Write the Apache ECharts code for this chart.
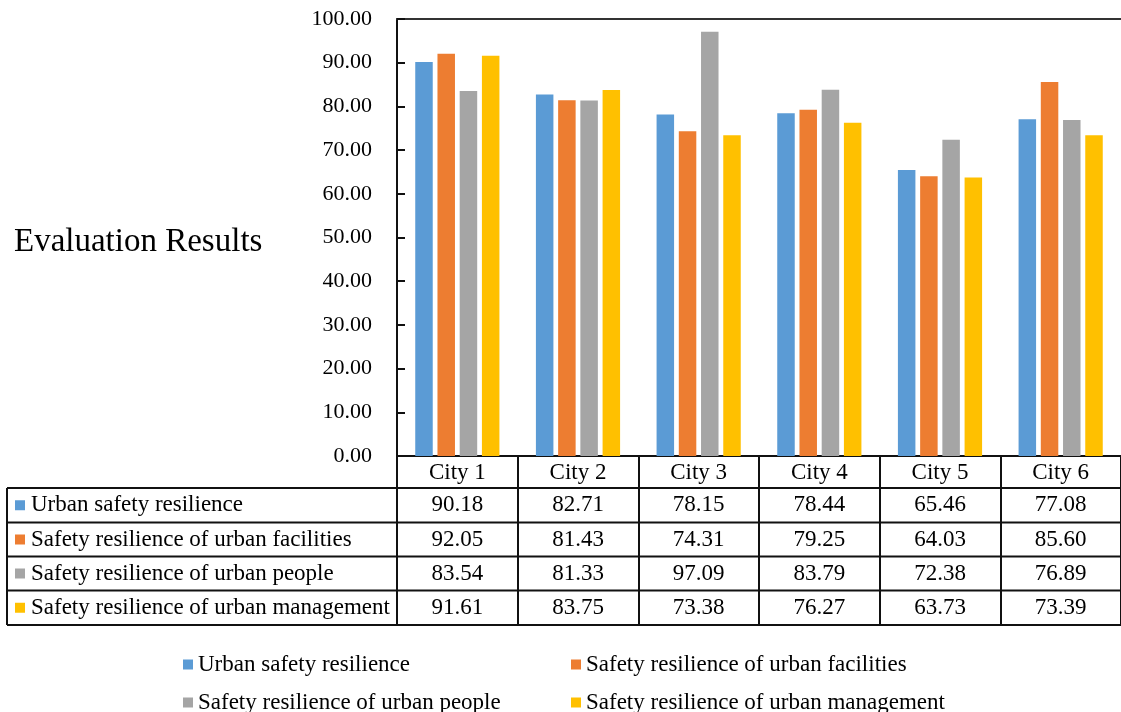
<!DOCTYPE html>
<html>
<head>
<meta charset="utf-8">
<script src="https://cdn.jsdelivr.net/npm/echarts@6/dist/echarts.min.js"></script>
<style>
    html, body {margin: 0; padding: 0; background: #fff;}
    #main {width: 1121px; height: 712px;}
</style>
</head>
<body>
<div id="main"></div>
<script>
const cities = ['City 1', 'City 2', 'City 3', 'City 4', 'City 5', 'City 6'];
const seriesNames = [
    'Urban safety resilience',
    'Safety resilience of urban facilities',
    'Safety resilience of urban people',
    'Safety resilience of urban management'
];
const urbanSafety = [90.18, 82.71, 78.15, 78.44, 65.46, 77.08];
const urbanFacilities = [92.05, 81.43, 74.31, 79.25, 64.03, 85.60];
const urbanPeople = [83.54, 81.33, 97.09, 83.79, 72.38, 76.89];
const urbanManagement = [91.61, 83.75, 73.38, 76.27, 63.73, 73.39];
const seriesValues = [urbanSafety, urbanFacilities, urbanPeople, urbanManagement];

const colorConfig = ['#5B9BD5', '#ED7D31', '#A5A5A5', '#FFC000'];
const serif = '"Liberation Serif", "Times New Roman", serif';
const lineColor = '#111';

//  数据表的行（上边线）
const rowLines = [488, 522.5, 556.5, 590.5, 625];

const chartOption = function () {
    return {
        animation: false,
        color: colorConfig,
        textStyle: {fontFamily: serif},
        title: {
            text: 'Evaluation Results',
            left: 9,
            top: 221,
            textStyle: {fontFamily: serif, fontSize: 33, fontWeight: 'normal', color: '#000'}
        },
        legend: seriesNames.map(function (name, i) {
            return {
                data: [name],
                left: i % 2 === 0 ? 178 : 566,
                top: i < 2 ? 648 : 686,
                icon: 'rect',
                itemWidth: 10,
                itemHeight: 10,
                selectedMode: false,
                textStyle: {fontFamily: serif, fontSize: 23, color: '#000'}
            };
        }),
        grid: {
            left: 397,
            right: 0,
            top: 19,
            bottom: 256
        },
        xAxis: [
            {
                type: 'category',
                data: cities,
                axisLine: {lineStyle: {color: lineColor, width: 2}},
                //  刻度线一直画到表格底部
                axisTick: {show: true, interval: 0, length: 169, lineStyle: {color: lineColor, width: 2}},
                axisLabel: {color: '#000', fontSize: 23, fontFamily: serif, margin: 5, interval: 0}
            },
            {
                //  顶部边框
                type: 'category',
                data: cities,
                position: 'top',
                axisLine: {lineStyle: {color: '#333', width: 2}},
                axisTick: {show: false},
                axisLabel: {show: false}
            }
        ],
        yAxis: {
            type: 'value',
            min: 0,
            max: 100,
            interval: 10,
            axisLine: {show: true, lineStyle: {color: lineColor, width: 2}},
            axisTick: {show: true, inside: true, length: 8, lineStyle: {color: lineColor, width: 2}},
            splitLine: {show: false},
            axisLabel: {
                color: '#000',
                fontSize: 22,
                fontFamily: serif,
                margin: 25,
                formatter: function (value) {
                    return value.toFixed(2);
                }
            }
        },
        series: seriesValues.map(function (values, i) {
            return {
                name: seriesNames[i],
                type: 'bar',
                data: values,
                barWidth: 17.5,
                barGap: '27%'
            };
        })
    };
};

//  数据表
const tableGraphic = function (chart) {
    const elements = [];
    rowLines.forEach(function (y) {
        elements.push({
            type: 'line',
            shape: {x1: 7, y1: y, x2: 1121, y2: y},
            style: {stroke: lineColor, lineWidth: 2}
        });
    });
    elements.push({
        type: 'line',
        shape: {x1: 7, y1: rowLines[0], x2: 7, y2: rowLines[rowLines.length - 1]},
        style: {stroke: lineColor, lineWidth: 2}
    });
    seriesValues.forEach(function (values, i) {
        const yc = (rowLines[i] + rowLines[i + 1]) / 2;
        elements.push({
            type: 'rect',
            shape: {x: 15, y: yc - 5, width: 10, height: 10},
            style: {fill: colorConfig[i]}
        });
        elements.push({
            type: 'text',
            style: {
                text: seriesNames[i], x: 31, y: yc,
                align: 'left', verticalAlign: 'middle',
                font: '23px ' + serif, fill: '#000'
            }
        });
        values.forEach(function (v, j) {
            const xc = chart.convertToPixel({xAxisIndex: 0}, cities[j]);
            elements.push({
                type: 'text',
                style: {
                    text: v.toFixed(2), x: xc, y: yc,
                    align: 'center', verticalAlign: 'middle',
                    font: '23px ' + serif, fill: '#000'
                }
            });
        });
    });
    return elements;
};

function mainChartFn() {
    const myChart = echarts.init(document.getElementById('main'));
    myChart.setOption(chartOption());
    myChart.setOption({graphic: tableGraphic(myChart)});
}

mainChartFn();
</script>
</body>
</html>
